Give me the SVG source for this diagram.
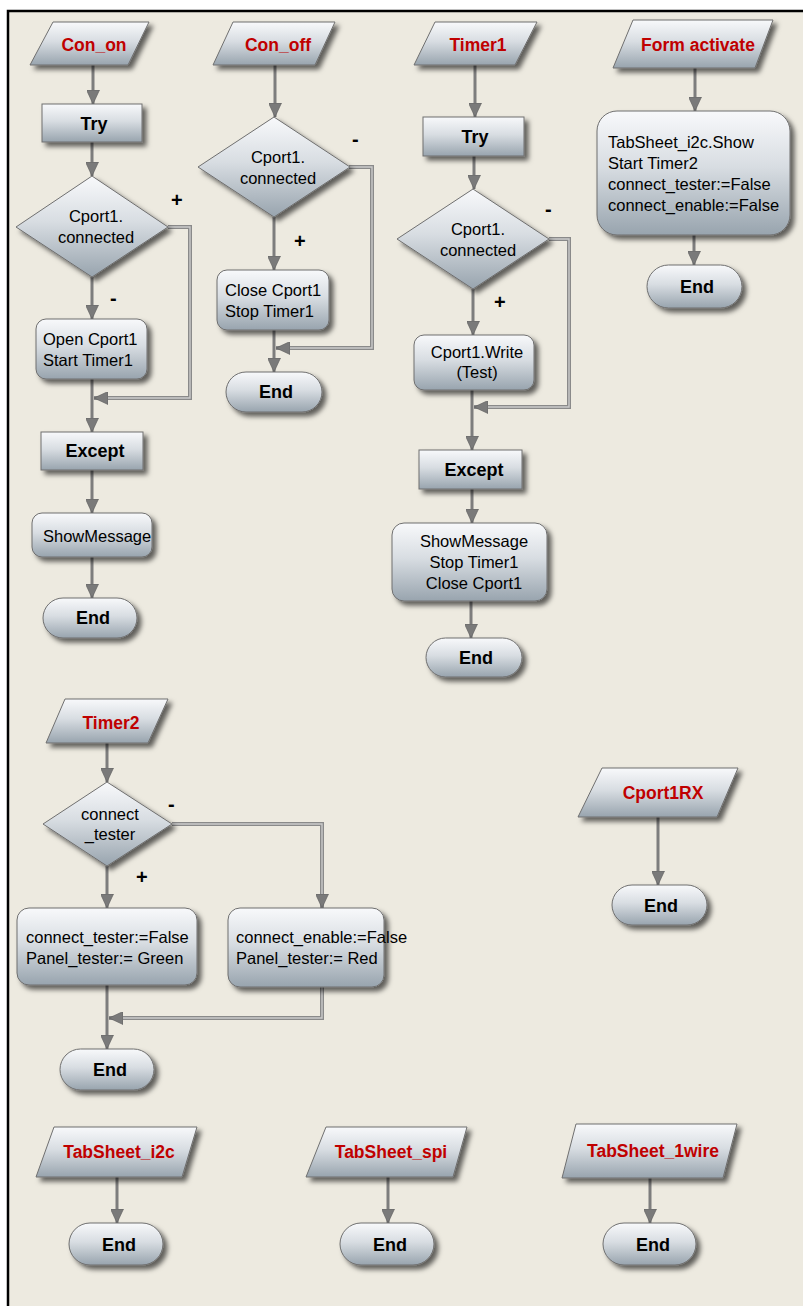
<svg xmlns="http://www.w3.org/2000/svg" width="803" height="1306" viewBox="0 0 803 1306">
  <defs>
    <linearGradient id="g" x1="0" y1="0" x2="0" y2="1">
      <stop offset="0" stop-color="#f8f9fb"/>
      <stop offset="0.45" stop-color="#d8dde2"/>
      <stop offset="1" stop-color="#98a4ae"/>
    </linearGradient>
    <filter id="sh" x="-20%" y="-20%" width="150%" height="160%">
      <feDropShadow dx="4" dy="4" stdDeviation="2.4" flood-color="#000" flood-opacity="0.6"/>
    </filter>
    <marker id="ah" viewBox="0 0 14 13" refX="14" refY="6.5" markerWidth="14" markerHeight="13" markerUnits="userSpaceOnUse" orient="auto">
      <path d="M0,0 L14,6.5 L0,13 Z" fill="#7a7a7a" stroke="#5a5a5a" stroke-width="0.6"/>
    </marker>
    <style>
      .n { fill: url(#g); stroke: #6f6f6f; stroke-width: 1; filter: url(#sh); }
      .t { font-family: "Liberation Sans", Arial, sans-serif; font-size: 16.5px; fill: #000; }
      .m { text-anchor: middle; }
      .b { font-weight: bold; font-size: 18px; }
      .ev { font-weight: bold; font-size: 17.5px; fill: #c00000; text-anchor: middle; }
      .sg { font-family: "Liberation Sans", Arial, sans-serif; font-weight: bold; font-size: 20px; fill: #000; }
      .c { fill: none; stroke: #7d7d7d; stroke-width: 3; marker-end: url(#ah); }
      .lo { fill: none; stroke: #8a8a8a; stroke-width: 4; marker-end: url(#ah); }
      .li { fill: none; stroke: #cbcbcb; stroke-width: 1.4; }
    </style>
  </defs>

  <!-- page -->
  <rect x="0" y="0" width="803" height="1306" fill="#ffffff"/>
  <rect x="8" y="11" width="795" height="1295" fill="#edeae0"/>
  <path d="M8,1306 V11 H803" fill="none" stroke="#000" stroke-width="2.5"/>

  <!-- connectors -->
  <g id="connectors">
    <!-- Con_on -->
    <path class="c" d="M93,65 V104"/>
    <path class="c" d="M92,142 V176"/>
    <path class="c" d="M92,277 V319"/>
    <path class="c" d="M92,379 V432"/>
    <path class="c" d="M92,470 V513"/>
    <path class="c" d="M92,557 V598"/>
    <path class="lo" d="M168,227 H190 V398 H94"/>
    <path class="li" d="M168,227 H190 V398 H108"/>
    <!-- Con_off -->
    <path class="c" d="M275,65 V117"/>
    <path class="c" d="M274,217 V270"/>
    <path class="c" d="M274,330 V372"/>
    <path class="lo" d="M349,167 H372 V348 H276"/>
    <path class="li" d="M349,167 H372 V348 H290"/>
    <!-- Timer1 -->
    <path class="c" d="M475,65 V117"/>
    <path class="c" d="M474,156 V189"/>
    <path class="c" d="M473,289 V335"/>
    <path class="c" d="M472,390 V450"/>
    <path class="c" d="M472,489 V523"/>
    <path class="c" d="M471,601 V638"/>
    <path class="lo" d="M549,239 H569 V407 H474"/>
    <path class="li" d="M549,239 H569 V407 H488"/>
    <!-- Form activate -->
    <path class="c" d="M695,68 V111"/>
    <path class="c" d="M694,235 V265"/>
    <!-- Timer2 -->
    <path class="c" d="M107,743 V782"/>
    <path class="c" d="M107,866 V908"/>
    <path class="c" d="M107,985 V1049"/>
    <path class="lo" d="M172,824 H322 V908"/>
    <path class="li" d="M172,824 H322 V894"/>
    <path class="lo" d="M322,987 V1018 H109"/>
    <path class="li" d="M322,987 V1018 H123"/>
    <!-- Cport1RX -->
    <path class="c" d="M658,817 V885"/>
    <!-- TabSheets -->
    <path class="c" d="M117,1177 V1223"/>
    <path class="c" d="M388,1177 V1223"/>
    <path class="c" d="M650,1178 V1223"/>
  </g>

  <!-- branch signs -->
  <g id="signs">
    <text class="sg" x="171" y="207">+</text>
    <text class="sg" x="110" y="305">-</text>
    <text class="sg" x="352" y="146">-</text>
    <text class="sg" x="294" y="248">+</text>
    <text class="sg" x="545" y="216">-</text>
    <text class="sg" x="494" y="309">+</text>
    <text class="sg" x="168" y="811">-</text>
    <text class="sg" x="136" y="884">+</text>
  </g>

  <!-- Con_on -->
  <g id="con_on">
    <polygon class="n" points="53,22 149,22 128,65 30,65"/>
    <text class="t ev" x="94" y="51">Con_on</text>
  </g>
  <g id="try1">
    <rect class="n" x="42" y="104" width="100" height="38"/>
    <text class="t b m" x="94" y="130">Try</text>
  </g>
  <g id="dec1">
    <polygon class="n" points="92,176 168,227 92,277 16,227"/>
    <text class="t m" x="96" y="222">Cport1.</text>
    <text class="t m" x="96" y="243">connected</text>
  </g>
  <g id="open1">
    <rect class="n" x="36" y="319" width="111" height="60" rx="10"/>
    <text class="t" x="43" y="345">Open Cport1</text>
    <text class="t" x="43" y="366">Start Timer1</text>
  </g>
  <g id="except1">
    <rect class="n" x="41" y="432" width="102" height="38"/>
    <text class="t b m" x="95" y="457">Except</text>
  </g>
  <g id="msg1">
    <rect class="n" x="32" y="513" width="120" height="44" rx="10"/>
    <text class="t" x="43" y="542">ShowMessage</text>
  </g>
  <g id="end1">
    <rect class="n" x="43" y="598" width="94" height="40" rx="20"/>
    <text class="t b m" x="93" y="624">End</text>
  </g>

  <!-- Con_off -->
  <g id="con_off">
    <polygon class="n" points="233,22 335,22 315,65 213,65"/>
    <text class="t ev" x="278" y="51">Con_off</text>
  </g>
  <g id="dec2">
    <polygon class="n" points="274,117 350,167 274,217 198,167"/>
    <text class="t m" x="278" y="163">Cport1.</text>
    <text class="t m" x="278" y="184">connected</text>
  </g>
  <g id="close2">
    <rect class="n" x="217" y="270" width="112" height="60" rx="10"/>
    <text class="t" x="225" y="296">Close Cport1</text>
    <text class="t" x="225" y="317">Stop Timer1</text>
  </g>
  <g id="end2">
    <rect class="n" x="226" y="372" width="96" height="40" rx="20"/>
    <text class="t b m" x="276" y="398">End</text>
  </g>

  <!-- Timer1 -->
  <g id="timer1">
    <polygon class="n" points="435,22 537,22 515,65 414,65"/>
    <text class="t ev" x="478" y="51">Timer1</text>
  </g>
  <g id="try3">
    <rect class="n" x="423" y="117" width="101" height="39"/>
    <text class="t b m" x="475" y="143">Try</text>
  </g>
  <g id="dec3">
    <polygon class="n" points="473,189 549,239 473,289 397,239"/>
    <text class="t m" x="478" y="235">Cport1.</text>
    <text class="t m" x="478" y="256">connected</text>
  </g>
  <g id="write3">
    <rect class="n" x="414" y="335" width="120" height="55" rx="10"/>
    <text class="t m" x="477" y="358">Cport1.Write</text>
    <text class="t m" x="477" y="378">(Test)</text>
  </g>
  <g id="except3">
    <rect class="n" x="419" y="450" width="103" height="39"/>
    <text class="t b m" x="474" y="476">Except</text>
  </g>
  <g id="msg3">
    <rect class="n" x="392" y="523" width="155" height="78" rx="12"/>
    <text class="t m" x="474" y="547">ShowMessage</text>
    <text class="t m" x="474" y="568">Stop Timer1</text>
    <text class="t m" x="474" y="589">Close Cport1</text>
  </g>
  <g id="end3">
    <rect class="n" x="426" y="638" width="96" height="39" rx="19.5"/>
    <text class="t b m" x="476" y="664">End</text>
  </g>

  <!-- Form activate -->
  <g id="form_activate">
    <polygon class="n" points="633,20 773,20 755,68 613,68"/>
    <text class="t ev" x="698" y="51">Form activate</text>
  </g>
  <g id="init4">
    <rect class="n" x="597" y="111" width="193" height="124" rx="20"/>
    <text class="t" x="608" y="148">TabSheet_i2c.Show</text>
    <text class="t" x="608" y="169">Start Timer2</text>
    <text class="t" x="608" y="190">connect_tester:=False</text>
    <text class="t" x="608" y="211">connect_enable:=False</text>
  </g>
  <g id="end4">
    <rect class="n" x="647" y="265" width="95" height="43" rx="21.5"/>
    <text class="t b m" x="697" y="293">End</text>
  </g>

  <!-- Timer2 -->
  <g id="timer2">
    <polygon class="n" points="65,699 168,699 148,743 46,743"/>
    <text class="t ev" x="111" y="729">Timer2</text>
  </g>
  <g id="dec5">
    <polygon class="n" points="107,782 172,824 107,866 43,824"/>
    <text class="t m" x="110" y="820">connect</text>
    <text class="t m" x="110" y="840">_tester</text>
  </g>
  <g id="green5">
    <rect class="n" x="17" y="908" width="180" height="77" rx="12"/>
    <text class="t" x="26" y="943">connect_tester:=False</text>
    <text class="t" x="26" y="964">Panel_tester:= Green</text>
  </g>
  <g id="red5">
    <rect class="n" x="228" y="908" width="156" height="79" rx="12"/>
    <text class="t" x="236" y="943">connect_enable:=False</text>
    <text class="t" x="236" y="964">Panel_tester:= Red</text>
  </g>
  <g id="end5">
    <rect class="n" x="60" y="1049" width="94" height="41" rx="20.5"/>
    <text class="t b m" x="110" y="1076">End</text>
  </g>

  <!-- Cport1RX -->
  <g id="cport1rx">
    <polygon class="n" points="602,768 738,768 717,817 578,817"/>
    <text class="t ev" x="663" y="799">Cport1RX</text>
  </g>
  <g id="end6">
    <rect class="n" x="612" y="885" width="95" height="40" rx="20"/>
    <text class="t b m" x="661" y="912">End</text>
  </g>

  <!-- TabSheet_i2c -->
  <g id="tabsheet_i2c">
    <polygon class="n" points="54,1127 197,1127 182,1177 36,1177"/>
    <text class="t ev" x="119" y="1158">TabSheet_i2c</text>
  </g>
  <g id="end7">
    <rect class="n" x="69" y="1223" width="94" height="42" rx="21"/>
    <text class="t b m" x="119" y="1251">End</text>
  </g>

  <!-- TabSheet_spi -->
  <g id="tabsheet_spi">
    <polygon class="n" points="326,1127 467,1127 453,1177 306,1177"/>
    <text class="t ev" x="391" y="1158">TabSheet_spi</text>
  </g>
  <g id="end8">
    <rect class="n" x="340" y="1223" width="94" height="42" rx="21"/>
    <text class="t b m" x="390" y="1251">End</text>
  </g>

  <!-- TabSheet_1wire -->
  <g id="tabsheet_1wire">
    <polygon class="n" points="576,1124 737,1124 723,1178 562,1178"/>
    <text class="t ev" x="653" y="1157">TabSheet_1wire</text>
  </g>
  <g id="end9">
    <rect class="n" x="603" y="1223" width="93" height="42" rx="21"/>
    <text class="t b m" x="653" y="1251">End</text>
  </g>
</svg>
